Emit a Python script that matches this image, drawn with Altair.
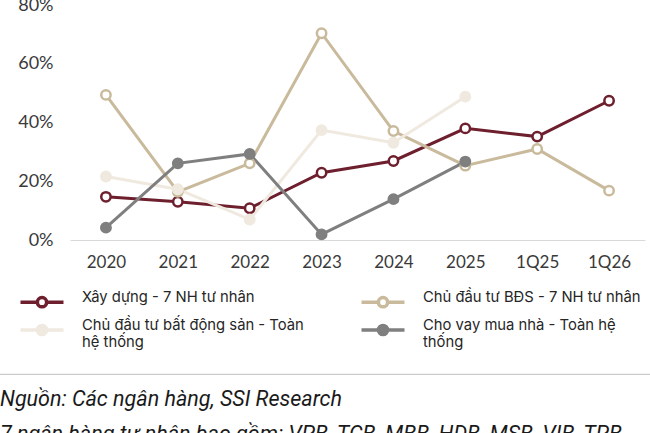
import altair as alt
import pandas as pd

categories = ["2020", "2021", "2022", "2023", "2024", "2025", "1Q25", "1Q26"]
series_names = [
    "Xây dựng - 7 NH tư nhân",
    "Chủ đầu tư BĐS - 7 NH tư nhân",
    "Chủ đầu tư bất động sản - Toàn hệ thống",
    "Cho vay mua nhà - Toàn hệ thống",
]
xay_dung_7nh = [0.147, 0.130, 0.108, 0.229, 0.269, 0.380, 0.352, 0.474]
cdt_bds_7nh = [0.494, 0.164, 0.261, 0.704, 0.371, 0.253, 0.310, 0.168]
cdt_bds_toan_he_thong = [0.216, 0.173, 0.070, 0.374, 0.331, 0.488]
cho_vay_mua_nha = [0.042, 0.261, 0.293, 0.019, 0.139, 0.267]
notes = [
    "Nguồn: Các ngân hàng, SSI Research",
    "7 ngân hàng tư nhân bao gồm: VPB, TCB, MBB, HDB, MSB, VIB, TPB",
]

colors = ["#6E1F2D", "#C9BA9C", "#EFE9DF", "#7F7F7F"]
fills = ["#FFFFFF", "#FFFFFF", "#EFE9DF", "#7F7F7F"]

rows = []
for si, (name, vals) in enumerate(zip(series_names, [xay_dung_7nh, cdt_bds_7nh, cdt_bds_toan_he_thong, cho_vay_mua_nha])):
    for ci, v in enumerate(vals):
        rows.append({"series": name, "cat": categories[ci], "value": v, "order": si})
df = pd.DataFrame(rows)

label_expr = (
    "datum.label == 'Chủ đầu tư bất động sản - Toàn hệ thống' ? ['Chủ đầu tư bất động sản - Toàn', 'hệ thống'] : "
    "datum.label == 'Cho vay mua nhà - Toàn hệ thống' ? ['Cho vay mua nhà - Toàn hệ', 'thống'] : datum.label"
)
# line + circle legend glyph (unit: sqrt(symbolSize)/2 px), nudged slightly down
symbol_path = ("M-2.15,0.4H-0.46M0.46,0.4H2.15"
               "M-0.46,0.4A0.46,0.46 0 1,1 0.46,0.4A0.46,0.46 0 1,1 -0.46,0.4Z")

legend = alt.Legend(title=None, orient="none", legendX=-40, legendY=281,
                    columns=2, direction="horizontal",
                    symbolType=symbol_path, symbolSize=400, symbolOpacity=1,
                    symbolStrokeWidth=3.5, labelFont="Inter", labelFontSize=14.8,
                    labelColor="#262626", labelOffset=28, labelLimit=400,
                    columnPadding=50, rowPadding=0, labelExpr=label_expr)

x_enc = alt.X("cat:N", sort=categories, scale=alt.Scale(type="point", padding=0.5),
              axis=alt.Axis(title=None, labelAngle=0, ticks=False, domainColor="#D9D9D9",
                            domainWidth=1, labelPadding=14, labelFont="Lato", labelFontSize=17,
                            labelColor="#3A3A3A", grid=False))
y_enc = alt.Y("value:Q", scale=alt.Scale(domain=[0, 0.8], nice=False),
              axis=alt.Axis(title=None, format=".0%", values=[0, 0.2, 0.4, 0.6, 0.8], domain=False,
                            ticks=False, grid=False, labelPadding=17, labelFont="Lato",
                            labelFontSize=18, labelColor="#3A3A3A"))
color_enc = alt.Color("series:N", scale=alt.Scale(domain=series_names, range=colors), legend=legend)
fill_enc = alt.Fill("series:N", scale=alt.Scale(domain=series_names, range=fills), legend=legend)

base = alt.Chart(df)
lines = base.mark_line(strokeWidth=3).encode(x=x_enc, y=y_enc, color=color_enc, order="order:Q")
points = base.mark_point(shape="circle", size=88, strokeWidth=2.5, opacity=1, filled=False).encode(
    x=x_enc, y=y_enc, color=color_enc, fill=fill_enc, order="order:Q")

sep = alt.Chart(pd.DataFrame({"a": [0]})).mark_rule(color="#BFBFBF", strokeWidth=1).encode(
    x=alt.value(-70), x2=alt.value(580), y=alt.value(369.3))
note_text = alt.Chart(pd.DataFrame({"a": [0]})).mark_text(
    align="left", baseline="alphabetic", font="Roboto", fontStyle="italic", fontSize=21.5,
    color="#1A1A1A", lineHeight=35).encode(x=alt.value(-70), y=alt.value(400.7), text=alt.value(notes))

chart = alt.layer(lines, points, sep, note_text).properties(
    width=575, height=235,
    autosize=alt.AutoSizeParams(type="none"),
    padding={"left": 70, "top": 5, "right": 5, "bottom": 193},
).configure_view(stroke=None)

chart.save("out.html", embed_options={"renderer": "svg", "actions": False})
